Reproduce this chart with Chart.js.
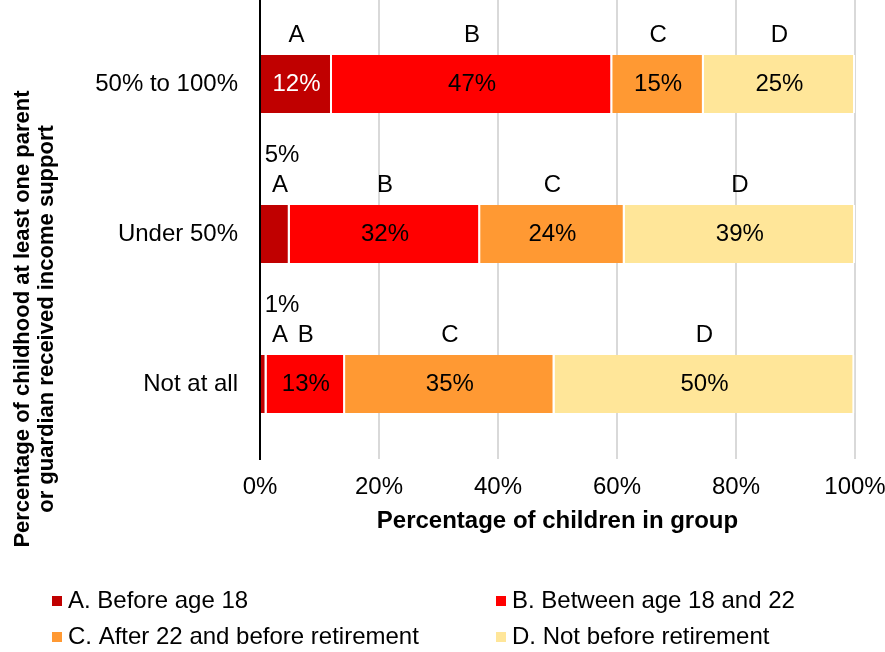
<!DOCTYPE html>
<html><head><meta charset="utf-8">
<script src="https://cdn.jsdelivr.net/npm/chart.js@4"></script>
<style>html,body{margin:0;padding:0;background:#fff}#wrap{width:885px;height:652px;position:relative}</style>
</head><body><div id="wrap"><canvas id="c" width="885" height="652"></canvas></div>
<script>
const categories = ['50% to 100%', 'Under 50%', 'Not at all'];
const seriesNames = ['A. Before age 18', 'B. Between age 18 and 22', 'C. After 22 and before retirement', 'D. Not before retirement'];
const seriesLetters = ['A', 'B', 'C', 'D'];
const beforeAge18 = [12.1, 5.0, 1.1];
const between18and22 = [47.1, 32.0, 13.2];
const after22 = [15.4, 24.3, 35.2];
const notBeforeRetirement = [25.4, 38.7, 50.4];
const xTickValues = [0, 20, 40, 60, 80, 100];
const yTitleLines = ['Percentage of childhood at least one parent', 'or guardian received income support'];
const xTitleText = 'Percentage of children in group';

const FONT = '"Liberation Sans", Arial, sans-serif';
const colors = ['#C00000', '#FF0000', '#FF9933', '#FFE699'];
const seriesValues = [beforeAge18, between18and22, after22, notBeforeRetirement];

const gridExtend = {
  id: 'gridExtend',
  beforeDatasetsDraw(chart) {
    const ctx = chart.ctx;
    const xs = chart.scales.x;
    const top = chart.chartArea.top;
    ctx.save();
    xs.ticks.forEach((t, k) => {
      const px = xs.getPixelForValue(t.value);
      ctx.strokeStyle = k === 0 ? '#000' : '#D9D9D9';
      ctx.lineWidth = 2;
      ctx.beginPath();
      ctx.moveTo(px, 0);
      ctx.lineTo(px, top);
      ctx.stroke();
    });
    ctx.restore();
  }
};

const segLabels = {
  id: 'segLabels',
  afterDatasetsDraw(chart) {
    const ctx = chart.ctx;
    const left = chart.chartArea.left;
    ctx.save();
    ctx.font = '24px ' + FONT;
    ctx.textAlign = 'center';
    ctx.textBaseline = 'middle';
    chart.data.datasets.forEach((ds, i) => {
      const meta = chart.getDatasetMeta(i);
      meta.data.forEach((el, j) => {
        const v = ds.data[j];
        const cx = (el.x + el.base) / 2;
        const top = el.y - el.height / 2;
        const lx = Math.max(cx, left + 20);
        ctx.fillStyle = '#000';
        ctx.fillText(seriesLetters[i], lx, top - 20);
        const txt = Math.round(v) + '%';
        if (v >= 8) {
          ctx.fillStyle = i === 0 ? '#fff' : '#000';
          ctx.fillText(txt, cx, el.y);
        } else {
          ctx.fillStyle = '#000';
          ctx.fillText(txt, lx + 2, top - 50);
        }
      });
    });
    ctx.restore();
  }
};

const extras = {
  id: 'extras',
  afterDraw(chart) {
    const ctx = chart.ctx;
    ctx.save();
    ctx.font = 'bold 22px ' + FONT;
    ctx.fillStyle = '#000';
    ctx.textAlign = 'center';
    ctx.textBaseline = 'middle';
    const cy = 319;
    [23, 47].forEach((x, k) => {
      ctx.save();
      ctx.translate(x, cy);
      ctx.rotate(-Math.PI / 2);
      ctx.fillText(yTitleLines[k], 0, 0);
      ctx.restore();
    });
    ctx.font = '24px ' + FONT;
    ctx.textAlign = 'left';
    const cols = [52, 496];
    const rows = [601, 637];
    chart.data.datasets.forEach((ds, i) => {
      const x = cols[i % 2];
      const y = rows[Math.floor(i / 2)];
      ctx.fillStyle = ds.backgroundColor;
      ctx.fillRect(x, y - 5, 10, 10);
      ctx.fillStyle = '#000';
      ctx.fillText(ds.label, x + 16, y);
    });
    ctx.restore();
  }
};

new Chart(document.getElementById('c'), {
  type: 'bar',
  data: {
    labels: categories,
    datasets: seriesValues.map((vals, i) => ({
      label: seriesNames[i],
      data: vals,
      backgroundColor: colors[i],
      borderColor: '#ffffff',
      borderWidth: { left: 0, top: 0, bottom: 0, right: 2 },
      borderSkipped: false,
      barPercentage: 0.387,
      categoryPercentage: 1
    }))
  },
  options: {
    indexAxis: 'y',
    responsive: false,
    devicePixelRatio: 1,
    animation: false,
    layout: { padding: { top: 9, right: 30, bottom: 113, left: 0 } },
    plugins: { legend: { display: false }, tooltip: { enabled: false } },
    scales: {
      x: {
        stacked: true,
        min: 0, max: 100,
        afterBuildTicks: (s) => { s.ticks = xTickValues.map(v => ({ value: v })); },
        afterFit: (s) => { s.height = 80; s.paddingLeft = 0; s.paddingRight = 0; },
        ticks: { callback: (v) => v + '%', color: '#000', padding: 14, font: { family: FONT, size: 24 } },
        grid: { color: '#D9D9D9', lineWidth: 2, drawTicks: false },
        border: { display: false },
        title: { display: true, text: xTitleText, color: '#000', font: { family: FONT, size: 24, weight: 'bold' }, padding: { top: 0, bottom: 3 } }
      },
      y: {
        stacked: true,
        afterFit: (s) => { s.width = 260; s.paddingTop = 0; s.paddingBottom = 0; },
        ticks: { color: '#000', padding: 22, font: { family: FONT, size: 24 } },
        grid: { display: false, drawTicks: false },
        border: { display: true, color: '#000', width: 2 }
      }
    }
  },
  plugins: [gridExtend, segLabels, extras]
});
</script>
</body></html>
